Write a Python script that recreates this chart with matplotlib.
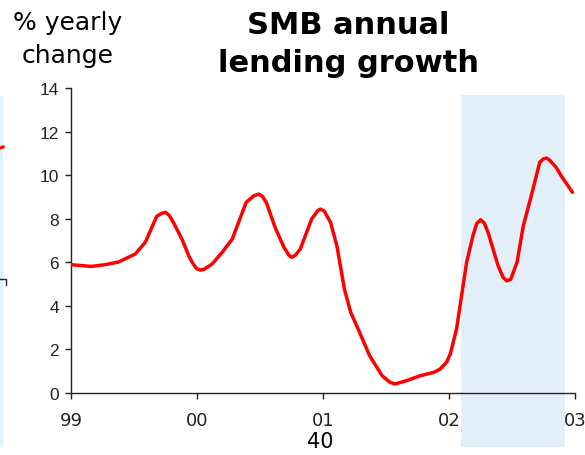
import matplotlib.pyplot as plt
from matplotlib.patches import Rectangle
from matplotlib.lines import Line2D
import matplotlib.transforms as mtransforms

# SMB lending growth, % yearly change (time in fractional years)
jahr = [1999.00, 1999.16, 1999.27, 1999.375, 1999.51, 1999.59, 1999.68, 1999.72,
        1999.75, 1999.78, 1999.81, 1999.88, 1999.94, 1999.97, 2000.00, 2000.03,
        2000.06, 2000.12, 2000.20, 2000.28, 2000.39, 2000.45, 2000.49, 2000.52,
        2000.55, 2000.62, 2000.69, 2000.73, 2000.75, 2000.78, 2000.82, 2000.91,
        2000.96, 2000.98, 2001.01, 2001.06, 2001.11, 2001.17, 2001.22, 2001.29,
        2001.37, 2001.47, 2001.53, 2001.57, 2001.66, 2001.77, 2001.88, 2001.93,
        2001.98, 2002.01, 2002.06, 2002.10, 2002.14, 2002.19, 2002.22, 2002.25,
        2002.28, 2002.31, 2002.39, 2002.43, 2002.46, 2002.49, 2002.54, 2002.59,
        2002.66, 2002.72, 2002.75, 2002.775, 2002.80, 2002.85, 2002.89, 2002.98]
wachstum = [5.89, 5.81, 5.89, 6.01, 6.38, 6.92, 8.11, 8.25,
            8.29, 8.15, 7.86, 7.07, 6.23, 5.92, 5.69, 5.64,
            5.69, 5.92, 6.46, 7.07, 8.75, 9.05, 9.13, 9.02,
            8.75, 7.60, 6.69, 6.32, 6.23, 6.32, 6.61, 7.99,
            8.38, 8.44, 8.35, 7.83, 6.76, 4.77, 3.70, 2.79,
            1.71, 0.79, 0.50, 0.41, 0.56, 0.79, 0.95, 1.10,
            1.41, 1.79, 2.94, 4.47, 6.00, 7.22, 7.78, 7.95,
            7.80, 7.37, 5.84, 5.30, 5.15, 5.22, 6.00, 7.68,
            9.21, 10.59, 10.75, 10.78, 10.68, 10.36, 9.97, 9.21]

# forecast period
prognose = (2002.095, 2002.92)

x_ticks = [1999, 2000, 2001, 2002, 2003]
x_labels = ['99', '00', '01', '02', '03']
y_ticks = [0, 2, 4, 6, 8, 10, 12, 14]

fig = plt.figure(figsize=(5.85, 4.56), dpi=100)
ax = fig.add_axes([71 / 585, 1 - 394 / 456, 504 / 585, 305 / 456])

# shaded forecast band, reaches below the axis
trans = mtransforms.blended_transform_factory(ax.transData, ax.transAxes)
ax.add_patch(Rectangle((prognose[0], -0.177), prognose[1] - prognose[0], 1.154,
                       transform=trans, facecolor='#E3EFF8', edgecolor='none',
                       clip_on=False, zorder=0))

ax.plot(jahr, wachstum, color='#FF0000', linewidth=2.5, solid_capstyle='round',
        solid_joinstyle='round', zorder=3)

ax.set_xlim(1999, 2003)
ax.set_ylim(0, 14)
ax.set_xticks(x_ticks)
ax.set_xticklabels(x_labels, fontsize=13, family='DejaVu Sans')
ax.set_yticks(y_ticks)
ax.set_yticklabels([str(v) for v in y_ticks], fontsize=12.5, family='Liberation Sans')
ax.tick_params(axis='both', direction='out', length=4, width=1, colors='#222222')
ax.tick_params(axis='x', pad=9)
ax.tick_params(axis='y', pad=4.5)
ax.spines['top'].set_visible(False)
ax.spines['right'].set_visible(False)
for s in ['left', 'bottom']:
    ax.spines[s].set_color('#222222')
    ax.spines[s].set_linewidth(1)
ax.patch.set_alpha(0)

# titles
fig.text(68 / 585, 1 - 23 / 456, '% yearly', ha='center', va='center', fontsize=18)
fig.text(68 / 585, 1 - 56 / 456, 'change', ha='center', va='center', fontsize=18)
fig.text(348 / 585, 1 - 25 / 456, 'SMB annual', ha='center', va='center',
         fontsize=22, fontweight='bold')
fig.text(349 / 585, 1 - 64 / 456, 'lending growth', ha='center', va='center',
         fontsize=22, fontweight='bold')
fig.text(320 / 585, 1 - 442 / 456, '40', ha='center', va='center', fontsize=15)

# edge of the neighbouring panel
fig.patches.append(Rectangle((0, 1 - 447 / 456), 3 / 585, 350 / 456,
                             transform=fig.transFigure, facecolor='#E3EFF8',
                             edgecolor='none'))
fig.lines.append(Line2D([0, 3 / 585], [1 - 149 / 456, 1 - 148 / 456],
                        transform=fig.transFigure, color='#FF0000', linewidth=2.3))
fig.lines.append(Line2D([0, 6 / 585, 6 / 585], [1 - 280 / 456, 1 - 280 / 456, 1 - 286 / 456],
                        transform=fig.transFigure, color='#222222', linewidth=1))

fig.savefig('out.png', dpi=100)
